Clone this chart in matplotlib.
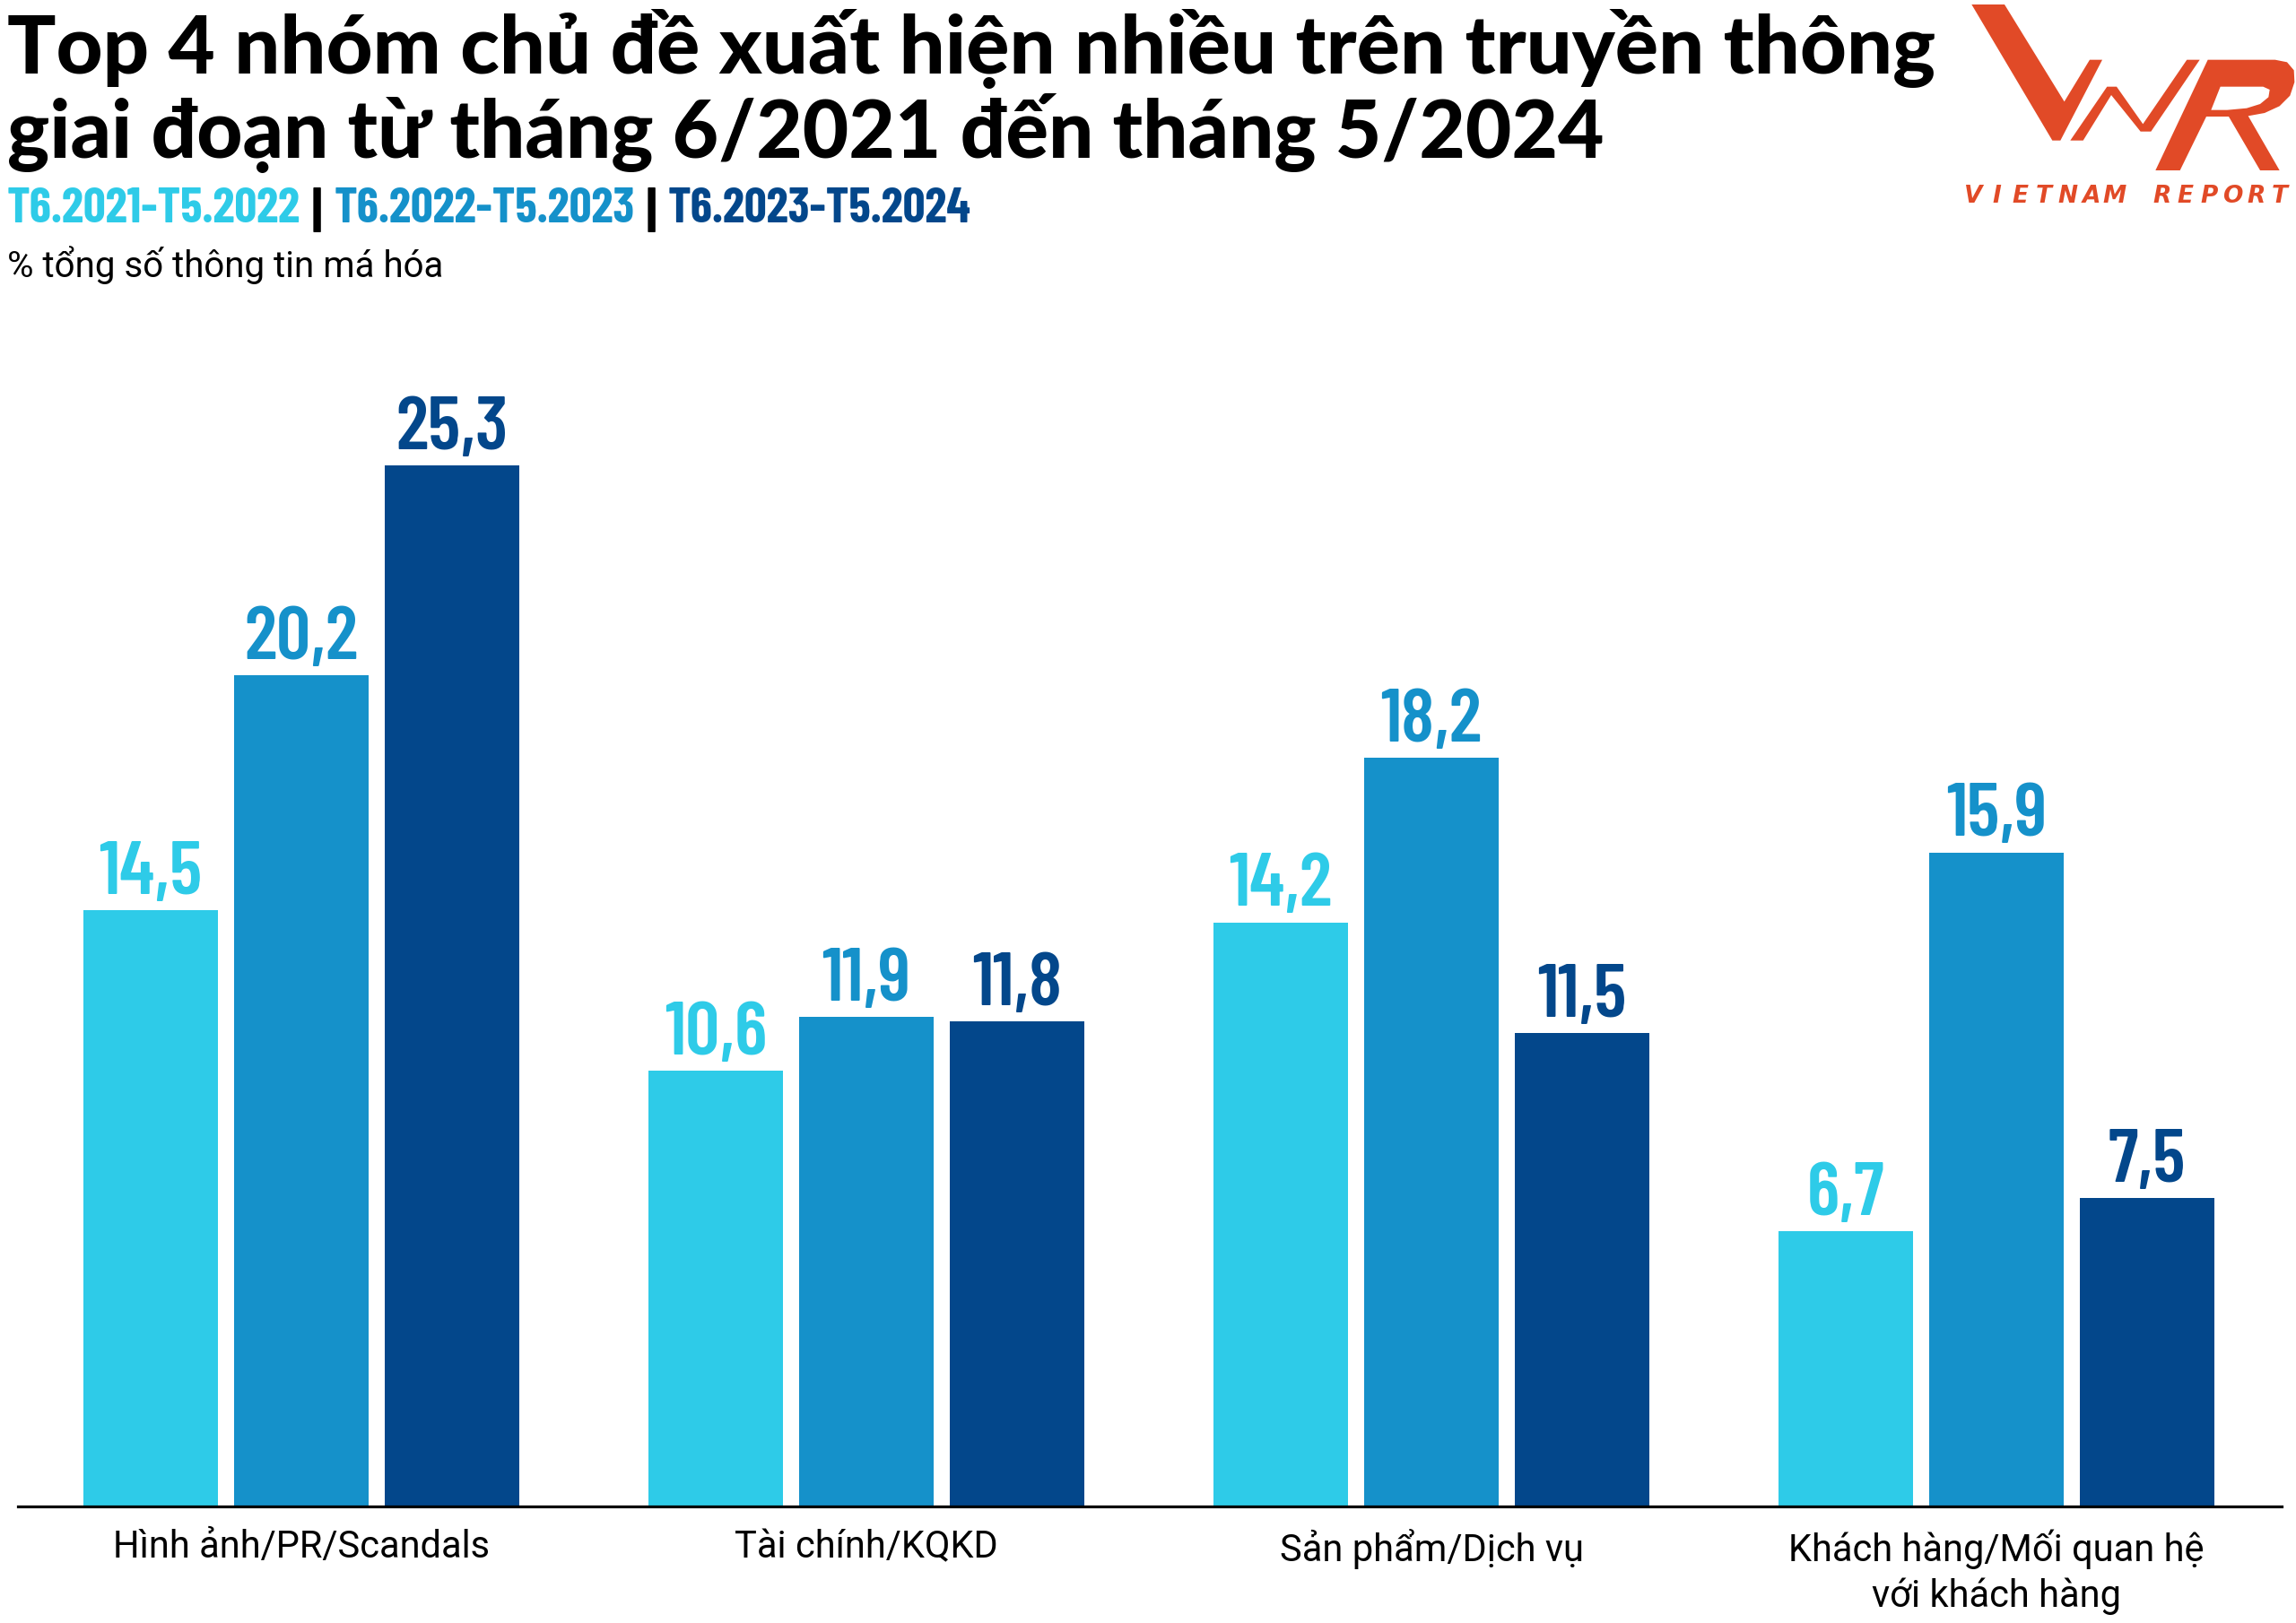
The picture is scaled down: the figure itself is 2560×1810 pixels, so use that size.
import matplotlib
matplotlib.use('Agg')
import matplotlib.pyplot as plt
from matplotlib import font_manager
from matplotlib.patches import Polygon
import numpy as np

# du lieu
categories = ['Hình ảnh/PR/Scandals', 'Tài chính/KQKD', 'Sản phẩm/Dịch vụ',
              'Khách hàng/Mối quan hệ\nvới khách hàng']
periods = ['T6.2021-T5.2022', 'T6.2022-T5.2023', 'T6.2023-T5.2024']
v_2122 = [14.5, 10.6, 14.2, 6.7]
v_2223 = [20.2, 11.9, 18.2, 15.9]
v_2324 = [25.3, 11.8, 11.5, 7.5]
series = [v_2122, v_2223, v_2324]

colors = ['#2ECBE8', '#1591CA', '#03478B']
orange = '#E14A27'

W, H = 2560, 1810

installed = set(f.name for f in font_manager.fontManager.ttflist)


def pick(*cands):
    # chon font dau tien co san
    for c in cands:
        if c in installed:
            return [c, 'DejaVu Sans']
    return ['DejaVu Sans']


num_font = pick('Barlow Condensed', 'Roboto Condensed', 'Oswald', 'Liberation Sans Narrow')
leg_font = pick('Barlow Condensed', 'Roboto Condensed', 'Liberation Sans Narrow')
title_font = pick('Lato', 'Roboto')
body_font = pick('Roboto', 'Lato')


def fx(px):
    return px / W


def fy(py):
    return 1 - py / H


fig = plt.figure(figsize=(W / 100, H / 100), dpi=100)
fig.patch.set_facecolor('white')

# truc chinh
ax = fig.add_axes([fx(20), (H - 1680) / H, 2524 / W, 1280 / H])
x = np.arange(len(categories))
offsets = [-0.267, 0, 0.267]
for vals, off, c in zip(series, offsets, colors):
    bars = ax.bar(x + off, vals, width=0.238, color=c, zorder=1)
    for b, v in zip(bars, vals):
        ax.annotate(f'{v:.1f}'.replace('.', ','),
                    xy=(b.get_x() + b.get_width() / 2, v),
                    xytext=(0, 13), textcoords='offset points',
                    ha='center', va='baseline', color=c,
                    fontsize=61, fontweight='semibold', family=num_font)

ax.set_xlim(-0.502, 3.505)
ax.set_ylim(0, 27.9)
for s in ['left', 'right', 'top']:
    ax.spines[s].set_visible(False)
ax.spines['bottom'].set_linewidth(2.3)
ax.spines['bottom'].set_color('black')
ax.set_yticks([])
ax.set_xticks(x)
ax.set_xticklabels(categories, fontsize=30, family=body_font, linespacing=1.3)
ax.tick_params(axis='x', length=0, pad=18)

# tieu de
fig.text(fx(8), fy(82), 'Top 4 nhóm chủ đề xuất hiện nhiều trên truyền thông',
         fontsize=65, fontweight='black', family=title_font, va='baseline')
fig.text(fx(8), fy(176), 'giai đoạn từ tháng 6/2021 đến tháng 5/2024',
         fontsize=64, fontweight='black', family=title_font, va='baseline')

# chu giai mau
renderer = fig.canvas.get_renderer()
cur = 8
for i, (p, c) in enumerate(zip(periods, colors)):
    t = fig.text(fx(cur), fy(248), p, color=c, fontsize=39.5, fontweight='bold',
                 family=leg_font, va='baseline')
    bb = t.get_window_extent(renderer)
    cur = bb.x1 + 13
    if i < len(periods) - 1:
        t = fig.text(fx(cur), fy(254), '|', color='black', fontsize=43,
                     fontweight='bold', family=leg_font, va='baseline')
        bb = t.get_window_extent(renderer)
        cur = bb.x1 + 13

fig.text(fx(8), fy(309), '% tổng số thông tin má hóa', fontsize=29,
         family=body_font, va='baseline')


# logo
def logo_pts(pts):
    return [(fx(2190 + a / 3), fy(b / 3)) for a, b in pts]


v_shape = [(25, 15), (135, 15), (335, 340), (420, 200), (462, 200), (322, 470), (295, 470)]
n_shape = [(355, 470), (478, 290), (510, 290), (598, 415), (745, 200), (788, 200),
           (625, 440), (590, 440), (492, 318), (398, 470)]
r_shape = [(640, 570), (815, 200), (1040, 200), (1080, 208), (1103, 235), (1105, 275),
           (1090, 320), (1055, 355), (1005, 378), (950, 388), (1055, 570), (990, 570),
           (885, 390), (810, 390), (722, 570)]
r_hole = [(857, 290), (1000, 290), (1022, 300), (1018, 325), (990, 348), (945, 362),
          (880, 368), (826, 368)]
for shp, c in [(v_shape, orange), (n_shape, orange), (r_shape, orange), (r_hole, 'white')]:
    fig.add_artist(Polygon(logo_pts(shp), closed=True, facecolor=c, edgecolor='none',
                           transform=fig.transFigure))

brand = 'VIETNAM REPORT'
for i, ch in enumerate(brand):
    fig.text(fx(2200 + i * 26.3), fy(226), ch, color=orange, fontsize=19,
             fontweight='bold', fontstyle='italic', ha='center', va='baseline',
             family=['DejaVu Sans'])

fig.savefig('out.png', dpi=100, facecolor='white')
